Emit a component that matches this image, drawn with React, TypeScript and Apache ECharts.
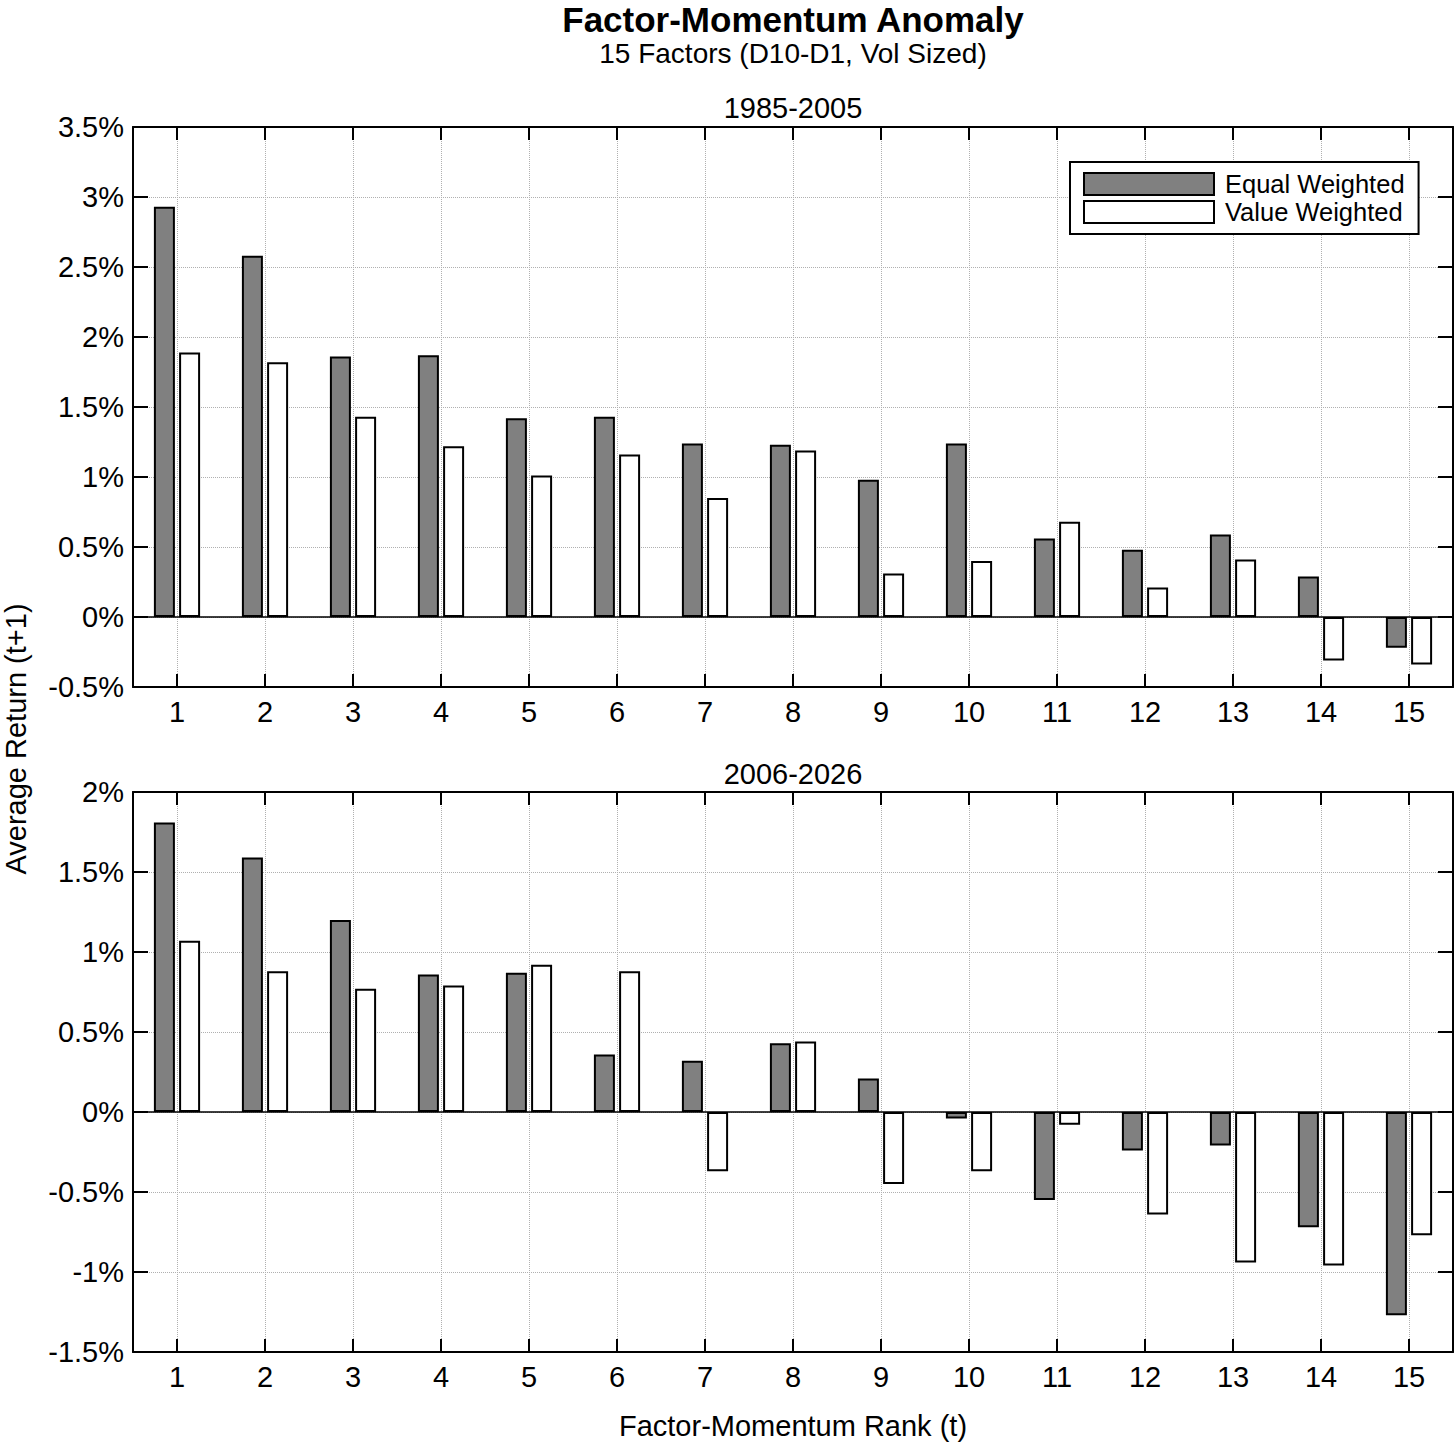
import { useEffect, useRef } from 'react';
import * as echarts from 'echarts';

const ranks = ['1', '2', '3', '4', '5', '6', '7', '8', '9', '10', '11', '12', '13', '14', '15'];

// 1985-2005, % per month
const earlyEqual = [2.93, 2.58, 1.86, 1.87, 1.42, 1.43, 1.24, 1.23, 0.98, 1.24, 0.56, 0.48, 0.59, 0.29, -0.22];
const earlyValue = [1.89, 1.82, 1.43, 1.22, 1.01, 1.16, 0.85, 1.19, 0.31, 0.4, 0.68, 0.21, 0.41, -0.31, -0.34];

// 2006-2026
const lateEqual = [1.81, 1.59, 1.2, 0.86, 0.87, 0.36, 0.32, 0.43, 0.21, -0.04, -0.55, -0.24, -0.21, -0.72, -1.27];
const lateValue = [1.07, 0.88, 0.77, 0.79, 0.92, 0.88, -0.37, 0.44, -0.45, -0.37, -0.08, -0.64, -0.94, -0.96, -0.77];

const earlyRange = { min: -0.5, max: 3.5 };
const lateRange = { min: -1.5, max: 2 };

const FONT = '"Liberation Sans", Arial, Helvetica, sans-serif';
const INK = '#000';

export default function App() {
  const elRef = useRef<HTMLDivElement | null>(null);

  useEffect(() => {
    if (!elRef.current) return;
    const chart = echarts.init(elRef.current, undefined, { renderer: 'svg' });

    const grids = [
      { left: 133, top: 127, width: 1320, height: 560 },
      { left: 133, top: 792, width: 1320, height: 560 },
    ];

    const gridLine = { show: true, lineStyle: { color: '#b0b0b0', type: 'dotted', width: 1 } };
    const boxLine = { show: true, onZero: false, lineStyle: { color: INK, width: 2 } };

    const xAxes: any[] = [];
    const yAxes: any[] = [];
    [earlyRange, lateRange].forEach((r, g) => {
      xAxes.push({
        gridIndex: g,
        type: 'category',
        data: ranks,
        position: 'bottom',
        axisLine: boxLine,
        axisTick: { show: true, inside: true, length: 13, alignWithLabel: true, lineStyle: { color: INK, width: 2 } },
        axisLabel: { color: INK, fontSize: 29, fontFamily: FONT, margin: 10 },
        splitLine: { ...gridLine, alignWithLabel: true },
      });
      xAxes.push({
        gridIndex: g,
        type: 'category',
        data: ranks,
        position: 'top',
        axisLine: boxLine,
        axisTick: { show: true, inside: true, length: 13, alignWithLabel: true, lineStyle: { color: INK, width: 2 } },
        axisLabel: { show: false },
        splitLine: { show: false },
      });
      yAxes.push({
        gridIndex: g,
        type: 'value',
        min: r.min,
        max: r.max,
        interval: 0.5,
        position: 'left',
        axisLine: boxLine,
        axisTick: { show: true, inside: true, length: 15, lineStyle: { color: INK, width: 2 } },
        axisLabel: {
          color: INK,
          fontSize: 29,
          fontFamily: FONT,
          margin: 9,
          formatter: (v: number) => `${v}%`,
        },
        splitLine: gridLine,
      });
      yAxes.push({
        gridIndex: g,
        type: 'value',
        min: r.min,
        max: r.max,
        interval: 0.5,
        position: 'right',
        axisLine: boxLine,
        axisTick: { show: true, inside: true, length: 15, lineStyle: { color: INK, width: 2 } },
        axisLabel: { show: false },
        splitLine: { show: false },
      });
    });

    const zeroLine = {
      silent: true,
      symbol: 'none',
      label: { show: false },
      lineStyle: { color: INK, width: 1.5, type: 'solid' },
      data: [{ yAxis: 0 }],
    };
    const eqStyle = { color: '#808080', borderColor: INK, borderWidth: 2 };
    const vwStyle = { color: '#ffffff', borderColor: INK, borderWidth: 2 };
    const bar = (name: string, data: number[], g: number, style: any, mark: boolean) => ({
      name,
      type: 'bar',
      xAxisIndex: g * 2,
      yAxisIndex: g * 2,
      data,
      barWidth: 21,
      barGap: '20%',
      itemStyle: style,
      markLine: mark ? zeroLine : undefined,
    });

    const text = (t: string, x: number, y: number, size: number, bold = false, rotation = 0) => ({
      type: 'text',
      x,
      y,
      rotation,
      silent: true,
      style: {
        text: t,
        fill: INK,
        font: `${bold ? 'bold ' : ''}${size}px ${FONT}`,
        align: 'center',
        verticalAlign: 'middle',
        textAlign: 'center',
        textVerticalAlign: 'middle',
      },
    });

    chart.setOption({
      animation: false,
      backgroundColor: '#ffffff',
      textStyle: { fontFamily: FONT },
      grid: grids,
      xAxis: xAxes,
      yAxis: yAxes,
      legend: {
        left: 1070,
        top: 162,
        orient: 'vertical',
        icon: 'rect',
        itemWidth: 130,
        itemHeight: 22,
        itemGap: 2,
        padding: [9, 14, 9, 13],
        borderColor: INK,
        borderWidth: 2,
        borderRadius: 0,
        backgroundColor: '#ffffff',
        textStyle: { color: INK, fontSize: 25.5, fontFamily: FONT, padding: [0, 0, 0, 6] },
        data: [
          { name: 'Equal Weighted', itemStyle: eqStyle },
          { name: 'Value Weighted', itemStyle: vwStyle },
        ],
      },
      series: [
        bar('Equal Weighted', earlyEqual, 0, eqStyle, true),
        bar('Value Weighted', earlyValue, 0, vwStyle, false),
        bar('Equal Weighted', lateEqual, 1, eqStyle, true),
        bar('Value Weighted', lateValue, 1, vwStyle, false),
      ],
      graphic: [
        text('Factor-Momentum Anomaly', 793, 19, 35, true),
        text('15 Factors (D10-D1, Vol Sized)', 793, 53, 28),
        text('1985-2005', 793, 108, 29),
        text('2006-2026', 793, 774, 29),
        text('Factor-Momentum Rank (t)', 793, 1426, 29),
        text('Average Return (t+1)', 16, 739, 29, false, Math.PI / 2),
      ],
    });

    const onResize = () => chart.resize();
    window.addEventListener('resize', onResize);
    return () => {
      window.removeEventListener('resize', onResize);
      chart.dispose();
    };
  }, []);

  return <div ref={elRef} style={{ position: 'absolute', left: 0, top: 0, width: 1456, height: 1444 }} />;
}
